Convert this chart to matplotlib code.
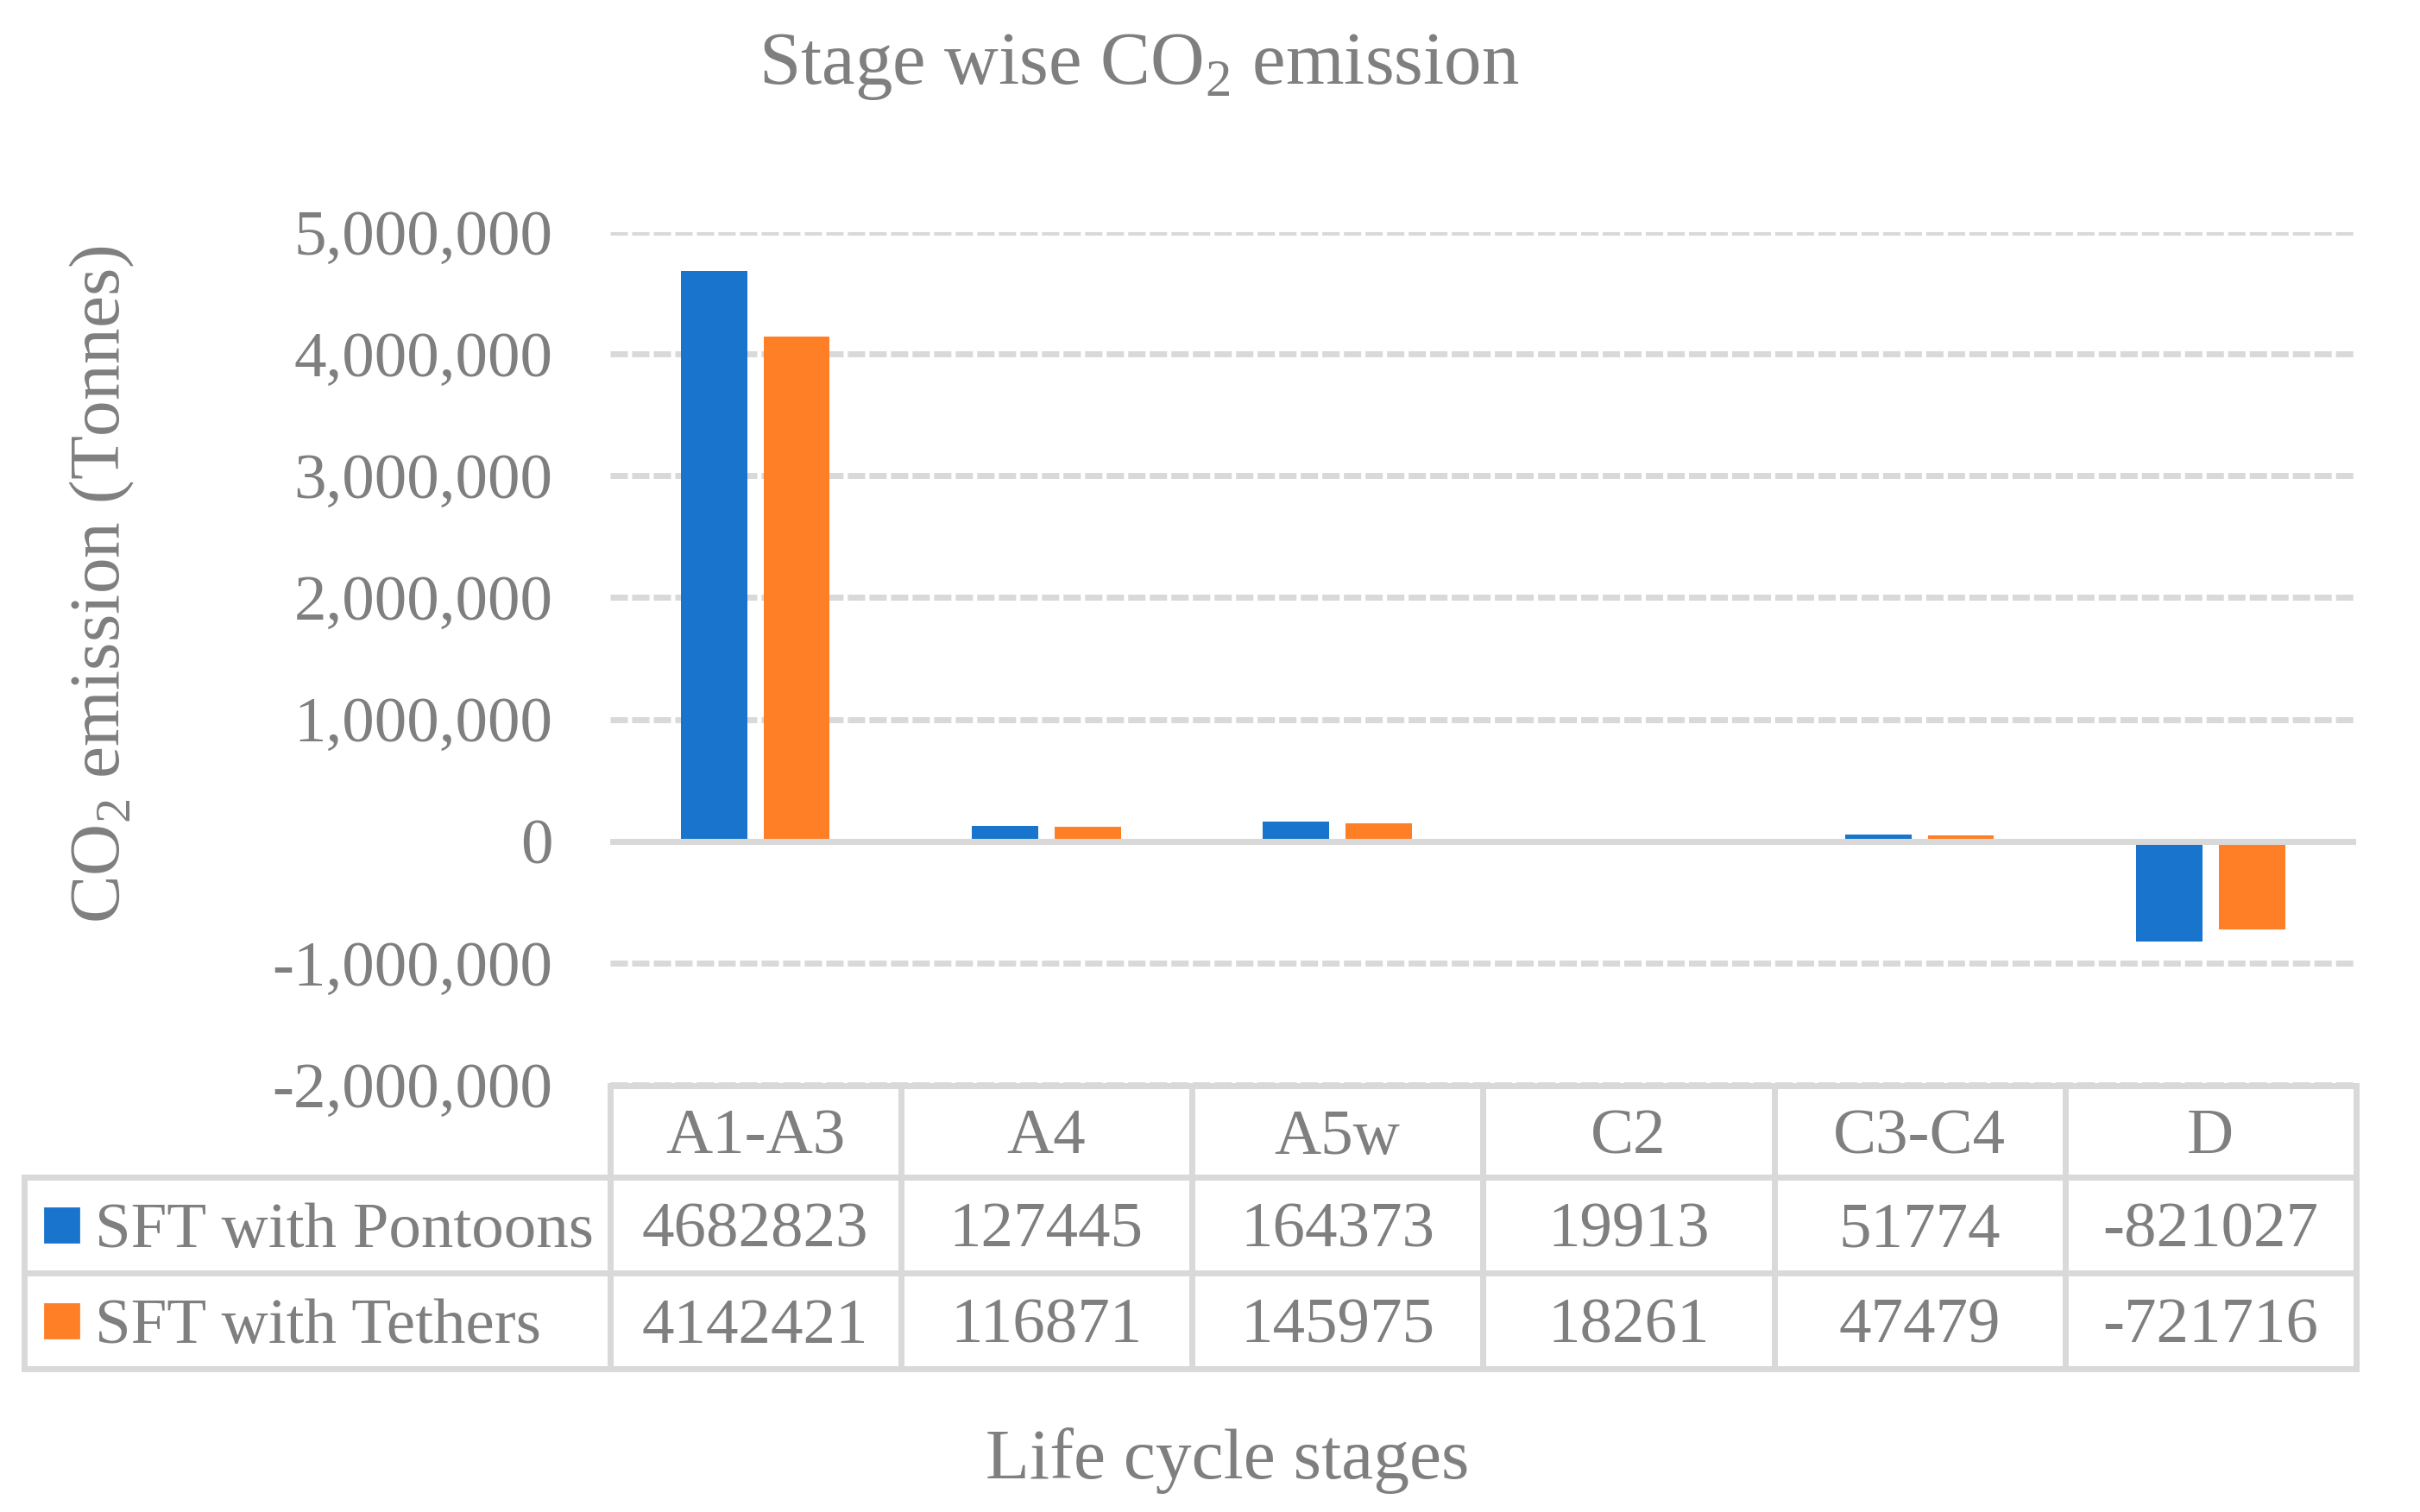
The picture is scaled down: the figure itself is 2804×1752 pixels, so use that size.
import numpy as np
import matplotlib
matplotlib.use("Agg")
import matplotlib.pyplot as plt
from matplotlib import transforms
from matplotlib.lines import Line2D
from matplotlib.patches import Rectangle

# chart data
stages = ["A1-A3", "A4", "A5w", "C2", "C3-C4", "D"]
series_names = ["SFT with Pontoons", "SFT with Tethers"]
pontoons = [4682823, 127445, 164373, 19913, 51774, -821027]
tethers = [4142421, 116871, 145975, 18261, 47479, -721716]
yticks = [-2000000, -1000000, 0, 1000000, 2000000, 3000000, 4000000, 5000000]

colors = ["#1874CD", "#FF7F27"]
text_color = "#7F7F7F"
line_color = "#D9D9D9"

plt.rcParams['font.family'] = ['Liberation Serif', 'DejaVu Serif']
plt.rcParams['mathtext.fontset'] = 'custom'
plt.rcParams['mathtext.rm'] = 'Liberation Serif'

W, H = 2804, 1752
fig = plt.figure(figsize=(W / 200, H / 200), dpi=200)


def fx(px):
    return px / W


def fy(py):
    return 1 - py / H


# plot area
ax = fig.add_axes([fx(706.5), fy(1257), fx(2730) - fx(706.5), fy(269) - fy(1257)])

x = np.arange(len(stages))
ax.bar(x - 0.142, pontoons, 0.228, color=colors[0], zorder=2)
ax.bar(x + 0.142, tethers, 0.228, color=colors[1], zorder=2)

ax.set_xlim(-0.5, len(stages) - 0.5)
ax.set_ylim(yticks[0], yticks[-1])
ax.set_yticks(yticks)
ax.set_yticklabels([f"{v:,}" for v in yticks])
ax.set_xticks([])
ax.tick_params(axis='y', length=0, pad=23.8, labelsize=27, labelcolor=text_color)
ax.yaxis.grid(True, color=line_color, linewidth=2.52, linestyle=(0, (2.86, 0.71)))
ax.set_axisbelow(True)
ax.axhline(0, color=line_color, linewidth=2.52, zorder=3)
for s in ax.spines.values():
    s.set_visible(False)

# data table under the plot
lw = 2.52
rows_y = [1258, 1363.5, 1474.5, 1585.5]
left_px, right_px = 28, 2730
tr = transforms.blended_transform_factory(ax.transData, fig.transFigure)

fig.add_artist(Line2D([-0.5, len(stages) - 0.5], [fy(rows_y[0])] * 2, transform=tr,
                      color=line_color, lw=lw, solid_capstyle='projecting'))
for yb in rows_y[1:]:
    fig.add_artist(Line2D([fx(left_px), fx(right_px)], [fy(yb)] * 2, transform=fig.transFigure,
                          color=line_color, lw=lw, solid_capstyle='projecting'))
for k in range(len(stages) + 1):
    fig.add_artist(Line2D([k - 0.5, k - 0.5], [fy(rows_y[0]), fy(rows_y[-1])], transform=tr,
                          color=line_color, lw=lw, solid_capstyle='projecting'))
fig.add_artist(Line2D([fx(left_px)] * 2, [fy(rows_y[1]), fy(rows_y[-1])], transform=fig.transFigure,
                      color=line_color, lw=lw, solid_capstyle='projecting'))

header_y = (rows_y[0] + rows_y[1]) / 2
for i, s in enumerate(stages):
    fig.text(i, fy(header_y), s, transform=tr, ha='center', va='center_baseline',
             fontsize=27, color=text_color)

for r, (name, vals) in enumerate(zip(series_names, [pontoons, tethers])):
    yc = (rows_y[r + 1] + rows_y[r + 2]) / 2
    fig.add_artist(Rectangle((fx(52), fy(yc + 19.5)), fx(39), 39 / H,
                             transform=fig.transFigure, color=colors[r]))
    fig.text(fx(110), fy(yc), name, ha='left', va='center_baseline', fontsize=27, color=text_color)
    for i, v in enumerate(vals):
        fig.text(i, fy(yc), str(v), transform=tr, ha='center', va='center_baseline',
                 fontsize=27, color=text_color)

# titles
fig.text(fx(1320), fy(97), r"Stage wise CO$_\mathregular{2}$ emission", ha='center', va='baseline',
         fontsize=31.3, color=text_color)
fig.text(fx(1422), fy(1713), "Life cycle stages", ha='center', va='baseline',
         fontsize=30, color=text_color)
fig.text(fx(118), fy(677), r"CO$_\mathregular{2}$ emission (Tonnes)", ha='center', va='center',
         rotation=90, fontsize=30, color=text_color)

fig.savefig("out.png", dpi=200, facecolor='white')
